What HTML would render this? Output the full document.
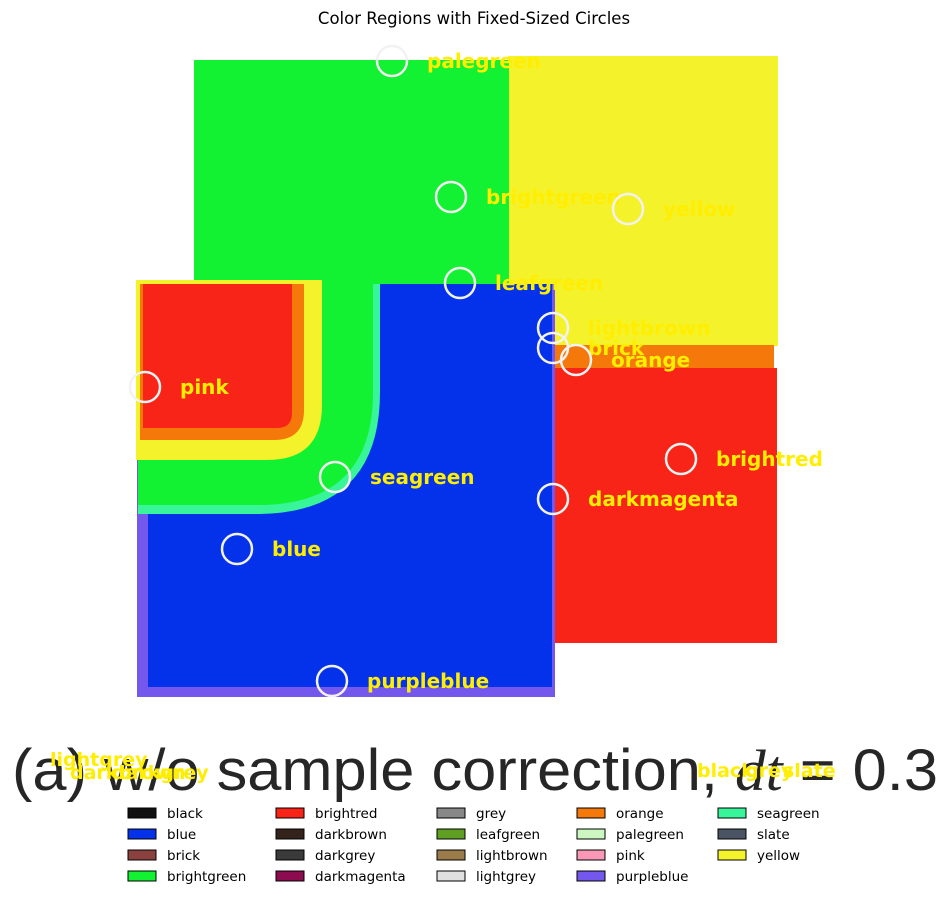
<!DOCTYPE html>
<html><head><meta charset="utf-8"><style>
body{margin:0;background:#fff;}
svg{display:block;font-family:"DejaVu Sans","Liberation Sans",sans-serif;}
</style></head><body>
<svg id="chart" width="949" height="899" viewBox="0 0 949 899" xmlns="http://www.w3.org/2000/svg">
<text x="474" y="24" font-size="16.5" text-anchor="middle" fill="#000">Color Regions with Fixed-Sized Circles</text>
<g>
  <rect x="508" y="56" width="270" height="290" fill="#f4f22b"/>
  <rect x="194" y="60" width="315" height="225" fill="#12f232"/>
  <rect x="553" y="345" width="221" height="24" fill="#f5780a"/>
  <rect x="553" y="368" width="224" height="275" fill="#f82418"/>
  <rect x="137" y="284" width="418" height="413" fill="#7457ec"/>
  <rect x="148" y="284" width="404" height="403" fill="#0432ea"/>
  <path d="M138 284 H380 V392 Q380 512 260 514 H138 Z" fill="#38f59a"/>
  <path d="M138 284 H373 V392 Q373 504 260 505 H138 Z" fill="#12f232"/>
  <path d="M136 280 H322 V405 Q322 460 267 460 H136 Z" fill="#f4f22b"/>
  <path d="M140 284 H304 V410 Q304 440 274 440 H140 Z" fill="#f5780a"/>
  <path d="M143 284 H292 V413 Q292 428 277 428 H143 Z" fill="#f82418"/>
</g>
<g id="markers"></g>
<text x="12" y="790" font-size="58" font-family="Liberation Sans" fill="#262626" textLength="926" lengthAdjust="spacingAndGlyphs">(a) w/o sample correction, <tspan font-style="italic" font-family="Liberation Serif">dt</tspan> = 0.3</text>
<g font-size="19" font-weight="bold" fill="#ffee00">
  <text x="50" y="766">lightgrey</text>
  <text x="70" y="779">darkbrown</text>
  <text x="112" y="779">darkgrey</text>
  <text x="697" y="777">black</text>
  <text x="745" y="777">grey</text>
  <text x="783" y="777">slate</text>
</g>
<g id="legend" font-size="13.5" fill="#000"></g>
</svg>
<script>
const labels=["palegreen","brightgreen","yellow","leafgreen","lightbrown","brick","orange","pink","brightred","darkmagenta","seagreen","blue","purpleblue"];
const cx=[392,451,628,460,553,553,576,145,681,553,335,237,332];
const cy=[61,197,209,283,328,348,360,387,459,499,477,549,681];
const legendNames=["black","blue","brick","brightgreen","brightred","darkbrown","darkgrey","darkmagenta","grey","leafgreen","lightbrown","lightgrey","orange","palegreen","pink","purpleblue","seagreen","slate","yellow"];
const legendColors=["#111111","#0432ea","#8b423e","#12f232","#f82418","#33231a","#3a3a3a","#8c0c50","#888888","#5fa022","#9c7b4a","#e0e0e0","#f5780a","#cdf7c0","#fa98b8","#7457ec","#38f59a","#4a5462","#f4f22b"];
const NS="http://www.w3.org/2000/svg";
const mg=document.getElementById('markers');
for(let i=0;i<labels.length;i++){
  const c=document.createElementNS(NS,'circle');
  c.setAttribute('cx',cx[i]);c.setAttribute('cy',cy[i]);c.setAttribute('r',15);
  c.setAttribute('fill','none');c.setAttribute('stroke','#f2f2f2');c.setAttribute('stroke-width','2.5');
  
  
  mg.appendChild(c);
  const t=document.createElementNS(NS,'text');
  t.setAttribute('x',cx[i]+35);t.setAttribute('y',cy[i]+7);
  t.setAttribute('font-size','20');t.setAttribute('font-weight','bold');t.setAttribute('fill','#ffee00');
  t.textContent=labels[i];
  
  
  mg.appendChild(t);
}
const lg=document.getElementById('legend');
const colX=[128,276,437,577,718];
for(let i=0;i<legendNames.length;i++){
  const col=Math.floor(i/4),row=i%4;
  const x=colX[col],y=808+row*21;
  const g=document.createElementNS(NS,'g');
  
  
  const r=document.createElementNS(NS,'rect');
  r.setAttribute('x',x);r.setAttribute('y',y);r.setAttribute('width',28);r.setAttribute('height',10);
  r.setAttribute('fill',legendColors[i]);r.setAttribute('stroke','#000');r.setAttribute('stroke-width','1');
  g.appendChild(r);
  const t=document.createElementNS(NS,'text');
  t.setAttribute('x',x+39);t.setAttribute('y',y+10);
  t.textContent=legendNames[i];
  g.appendChild(t);
  lg.appendChild(g);
}
</script>
</body></html>
